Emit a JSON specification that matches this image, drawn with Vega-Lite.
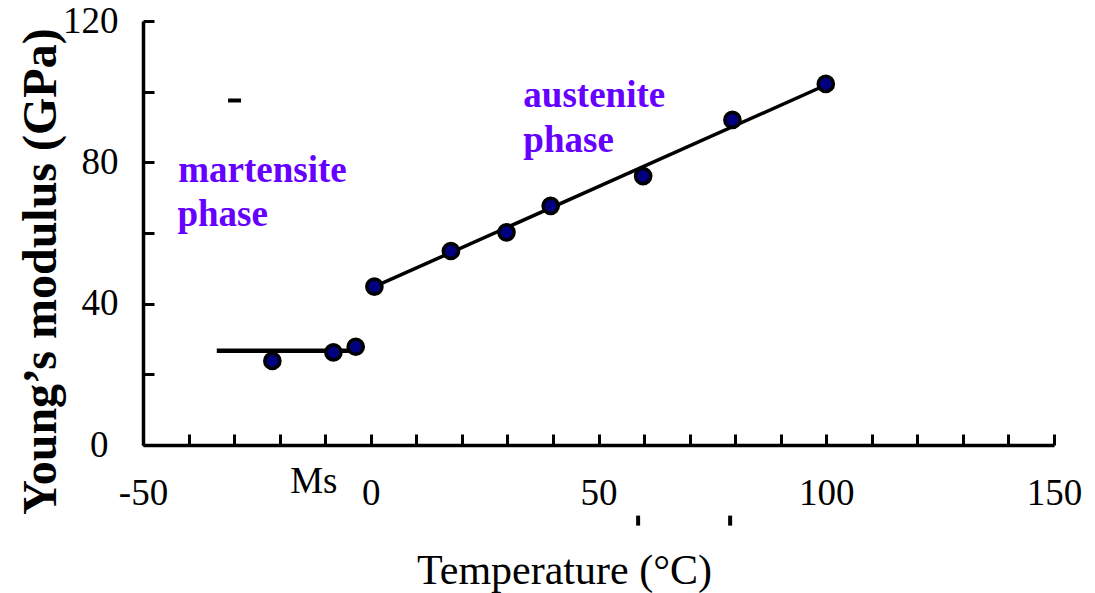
{
  "$schema": "https://vega.github.io/schema/vega-lite/v6.json",
  "width": 911,
  "height": 424,
  "autosize": {"type": "none"},
  "padding": {"left": 143, "top": 21, "right": 41, "bottom": 148},
  "background": "white",
  "config": {"font": "Liberation Serif", "view": {"stroke": null}},
  "datasets": {
    "pts": [
      {"t": -21.6, "v": 23.8}, {"t": -8.2, "v": 26.2}, {"t": -3.3, "v": 27.8},
      {"t": 0.8, "v": 44.8}, {"t": 17.6, "v": 54.9}, {"t": 29.8, "v": 60.2},
      {"t": 39.5, "v": 67.7}, {"t": 59.8, "v": 76.1}, {"t": 79.4, "v": 92.0},
      {"t": 99.9, "v": 102.2}
    ],
    "mline": [{"t": -33.8, "v": 26.7}, {"t": -2.5, "v": 26.7}],
    "aline": [{"t": 0.8, "v": 44.8}, {"t": 100.3, "v": 102.1}],
    "phase": [
      {"t": -42.25, "v": 74.3, "txt": "martensite"},
      {"t": -42.45, "v": 62.0, "txt": "phase"},
      {"t": 33.5, "v": 95.7, "txt": "austenite"},
      {"t": 33.5, "v": 83.0, "txt": "phase"}
    ],
    "ms": [{"t": -12.5, "v": -13.6, "txt": "Ms"}],
    "vmarks": [{"t": 58.7, "v": -21.4}, {"t": 78.9, "v": -21.4}],
    "hmarks": [{"t": -29.9, "v": 97.5}]
  },
  "encoding": {
    "x": {
      "field": "t", "type": "quantitative",
      "scale": {"domain": [-50, 150], "nice": false, "zero": false},
      "axis": {
        "values": [-50, -40, -30, -20, -10, 0, 10, 20, 30, 40, 50, 60, 70, 80, 90, 100, 110, 120, 130, 140, 150],
        "labelExpr": "datum.value % 50 === 0 ? '' + datum.value : ''",
        "grid": false, "labelFlush": false, "labelOverlap": false, "labelBound": false,
        "domainColor": "black", "domainWidth": 3.5,
        "tickColor": "black", "tickWidth": 3, "tickSize": -11,
        "labelFont": "Liberation Serif", "labelFontSize": 37, "labelColor": "black",
        "labelPadding": 41, "labelBaseline": "top",
        "title": "Temperature (°C)", "titleFont": "Liberation Serif", "titleFontSize": 42,
        "titleFontWeight": "normal", "titleColor": "black",
        "titleX": 421, "titleY": 138, "titleBaseline": "alphabetic", "titleAlign": "center"
      }
    },
    "y": {
      "field": "v", "type": "quantitative",
      "scale": {"domain": [0, 120], "nice": false},
      "axis": {
        "values": [0, 20, 40, 60, 80, 100, 120],
        "labelExpr": "datum.value % 40 === 0 ? '' + datum.value : ''",
        "grid": false, "labelFlush": false, "labelOverlap": false, "labelBound": false,
        "domainColor": "black", "domainWidth": 3.5,
        "tickColor": "black", "tickWidth": 3, "tickSize": -11,
        "labelFont": "Liberation Serif", "labelFontSize": 37, "labelColor": "black",
        "labelPadding": {"condition": {"test": "datum.value === 0", "value": 46}, "value": 36},
        "title": "Young’s modulus (GPa)", "titleFont": "Liberation Serif", "titleFontSize": 48,
        "titleFontWeight": "bold", "titleColor": "black",
        "titleX": -88, "titleY": 250, "titleAngle": -90, "titleBaseline": "alphabetic", "titleAlign": "center"
      }
    }
  },
  "layer": [
    {"data": {"name": "mline"}, "mark": {"type": "line", "color": "black", "strokeWidth": 4.5}},
    {"data": {"name": "aline"}, "mark": {"type": "line", "color": "black", "strokeWidth": 3.5}},
    {"data": {"name": "pts"}, "mark": {"type": "point", "filled": true, "fill": "#000080", "stroke": "black", "strokeWidth": 3.5, "size": 230, "opacity": 1, "fillOpacity": 1}},
    {"data": {"name": "phase"}, "mark": {"type": "text", "align": "left", "baseline": "alphabetic", "font": "Liberation Serif", "fontSize": 37, "fontWeight": "bold", "color": "#6600FF"},
     "encoding": {"text": {"field": "txt", "type": "nominal"}}},
    {"data": {"name": "ms"}, "mark": {"type": "text", "align": "center", "baseline": "alphabetic", "font": "Liberation Serif", "fontSize": 37, "color": "black"},
     "encoding": {"text": {"field": "txt", "type": "nominal"}}},
    {"data": {"name": "vmarks"}, "mark": {"type": "tick", "orient": "vertical", "size": 10, "thickness": 4, "color": "black", "opacity": 1}},
    {"data": {"name": "hmarks"}, "mark": {"type": "tick", "orient": "horizontal", "size": 13, "thickness": 4, "color": "black", "opacity": 1}}
  ]
}
